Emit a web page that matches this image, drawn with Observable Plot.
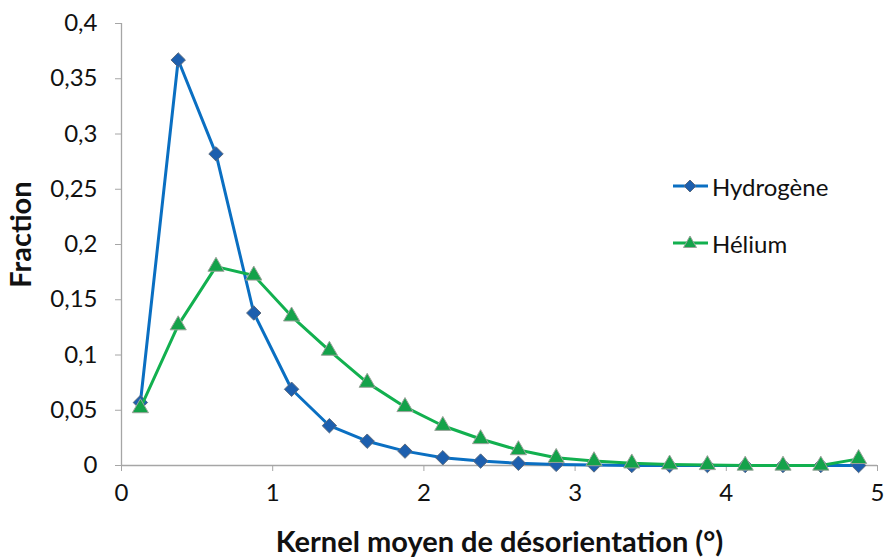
<!DOCTYPE html>
<html>
<head>
<meta charset="utf-8">
<script src="https://cdn.jsdelivr.net/npm/d3@7"></script>
<script src="https://cdn.jsdelivr.net/npm/@observablehq/plot@0.6"></script>
<style>
  html, body { margin: 0; padding: 0; background: #fff; }
  #wrap { position: relative; width: 886px; height: 558px; font-family: Lato, "Open Sans", sans-serif; }
  #legend { position: absolute; left: 672px; top: 171px; font-size: 24px; color: #111; }
  #legend .row { display: flex; align-items: center; height: 30px; }
  #legend .row + .row { margin-top: 27px; }
  #legend svg { margin-right: 3px; }
</style>
</head>
<body>
<div id="wrap">
  <div id="chart"></div>
  <div id="legend"></div>
</div>
<script>
// Data
const xCenters = [0.125, 0.375, 0.625, 0.875, 1.125, 1.375, 1.625, 1.875, 2.125, 2.375,
                  2.625, 2.875, 3.125, 3.375, 3.625, 3.875, 4.125, 4.375, 4.625, 4.875];
const hydrogene = [0.057, 0.367, 0.282, 0.138, 0.069, 0.036, 0.022, 0.013, 0.007, 0.004,
                   0.002, 0.001, 0.0005, 0, 0, 0, 0, 0, 0, 0];
const helium = [0.052, 0.127, 0.180, 0.172, 0.135, 0.104, 0.075, 0.053, 0.036, 0.024,
                0.014, 0.007, 0.004, 0.002, 0.001, 0.0005, 0, 0, 0, 0.006];
const seriesNames = ["Hydrogène", "Hélium"];
const xTicks = [0, 1, 2, 3, 4, 5];
const yTicks = [0, 0.05, 0.1, 0.15, 0.2, 0.25, 0.3, 0.35, 0.4];
const xLabel = "Kernel moyen de désorientation (°)";
const yLabel = "Fraction";

const colors = {line: ["#0a6fc2", "#12b04f"], fill: ["#1d5fae", "#14a24a"]};
const symbols = ["diamond2", "triangle"];

const H = xCenters.map((x, i) => ({x, y: hydrogene[i]}));
const He = xCenters.map((x, i) => ({x, y: helium[i]}));

const fmt = d => String(d).replace(".", ",");
const axisColor = "#a6a6a6";

const plot = Plot.plot({
  width: 886,
  height: 558,
  marginLeft: 121,
  marginRight: 9,
  marginTop: 23,
  marginBottom: 93,
  style: {fontFamily: "Lato, 'Open Sans', sans-serif", fontSize: "24px", color: "#111", background: "#fff"},
  x: {domain: [0, 5]},
  y: {domain: [0, 0.4]},
  marks: [
    Plot.ruleX([0], {stroke: axisColor, strokeWidth: 1.3}),
    Plot.ruleY([0], {stroke: axisColor, strokeWidth: 1.3}),
    Plot.axisY({ticks: yTicks, tickFormat: fmt, tickSize: 6, tickPadding: 18, stroke: axisColor, fontSize: 24, label: null}),
    Plot.axisX({ticks: xTicks, tickFormat: d => String(d), tickSize: 6, tickPadding: 12, stroke: axisColor, fontSize: 24, label: null}),
    Plot.text([xLabel], {frameAnchor: "bottom", dy: 86, fontWeight: "bold", fontSize: 29, fill: "#111"}),
    Plot.text([yLabel], {frameAnchor: "left", textAnchor: "middle", dx: -100, dy: -10, rotate: -90, fontWeight: "bold", fontSize: 29, fill: "#111"}),
    Plot.line(H, {x: "x", y: "y", stroke: colors.line[0], strokeWidth: 3}),
    Plot.dot(H, {x: "x", y: "y", symbol: symbols[0], r: 6.5, fill: colors.fill[0], stroke: "#5a6b80", strokeWidth: 1}),
    Plot.line(He, {x: "x", y: "y", stroke: colors.line[1], strokeWidth: 3}),
    Plot.dot(He, {x: "x", y: "y", symbol: symbols[1], r: 6, fill: colors.fill[1], stroke: "#9aa39a", strokeWidth: 1})
  ]
});
document.getElementById("chart").appendChild(plot);

// Legend
const legend = document.getElementById("legend");
seriesNames.forEach((name, i) => {
  const row = document.createElement("div");
  row.className = "row";
  const sym = i === 0
    ? `<polygon points="18,8 24,14 18,20 12,14" fill="${colors.fill[i]}" stroke="#5a6b80" stroke-width="1"/>`
    : `<polygon points="18,7 24.5,18.5 11.5,18.5" fill="${colors.fill[i]}" stroke="#9aa39a" stroke-width="1"/>`;
  row.innerHTML = `<svg width="37" height="28"><line x1="1" x2="36" y1="14" y2="14" stroke="${colors.line[i]}" stroke-width="3"/>${sym}</svg><span>${name}</span>`;
  legend.appendChild(row);
});
</script>
</body>
</html>
